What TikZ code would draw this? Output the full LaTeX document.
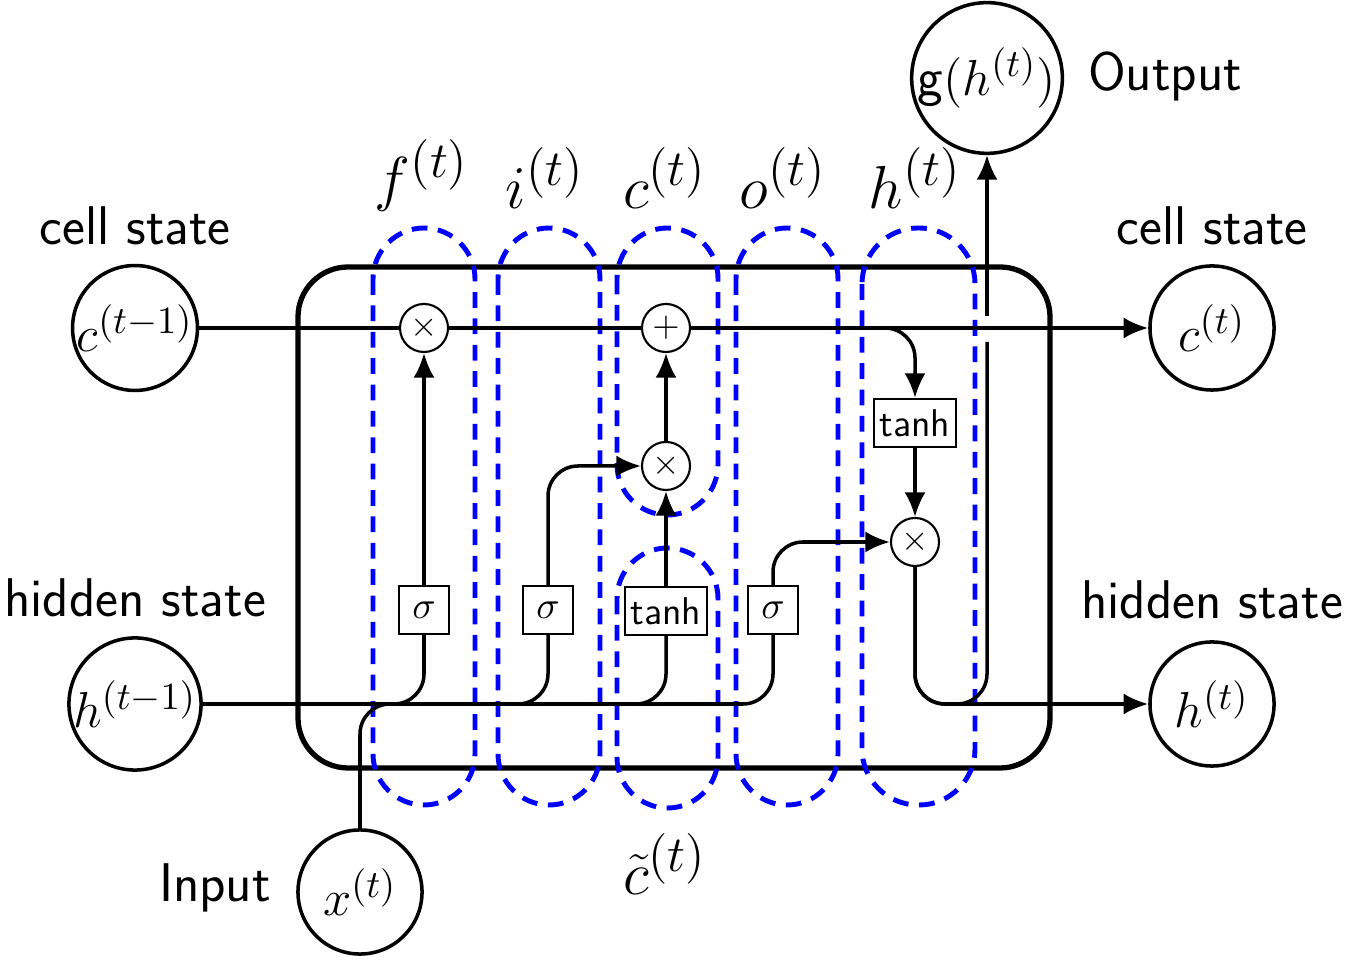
\documentclass[tikz,border=0pt]{standalone}
\usepackage{amsmath}
\usetikzlibrary{arrows.meta}
\begin{document}
\begin{tikzpicture}[x=0.01cm,y=-0.01cm,
  font=\sffamily\fontsize{15.5}{18}\selectfont,
  st/.style={circle,draw,line width=1pt,minimum size=1.24cm,inner sep=0pt},
  op/.style={circle,draw,line width=0.6pt,minimum size=0.48cm,inner sep=0pt,font=\fontsize{10}{12}\selectfont},
  gate/.style={draw,line width=0.6pt,minimum height=0.48cm,minimum width=0.5cm,inner sep=1.5pt,font=\sffamily\fontsize{11}{13}\selectfont},
  ln/.style={line width=1pt},
  ar/.style={ln,-{Latex[length=7pt,width=6pt]}},
  capsule/.style={draw=blue,dash pattern=on 4.5pt off 3pt,line width=1.4pt},
  lab/.style={font=\fontsize{19}{21}\selectfont}]
\useasboundingbox (0,0) rectangle (1352,962);
% box
\draw[line width=1.5pt,rounded corners=0.5cm] (298,267) rectangle (1050,768);
% nodes
\node[st] (cp) at (135,328) {$c^{(t-1)}$};
\node[st] (hp) at (135,704) {$h^{(t-1)}$};
\node[st] (cn) at (1212,328) {$c^{(t)}$};
\node[st] (hn) at (1212,704) {$h^{(t)}$};
\node[st] (x) at (360,892) {$x^{(t)}$};
\node[st,minimum size=1.44cm] (g) at (987,78) {g$(h^{(t)})$};
\node (l1) at (135,226) {cell state};
\node (l2) at (1212,226) {cell state};
\node (l3) at (135,598) {hidden state};
\node (l4) at (1212,600) {hidden state};
\node (l5) at (215,888) {Input};
\node (l6) at (1165,76) {Output};
\node[lab] (tf) at (422,175) {$f^{(t)}$};
\node[lab] (ti) at (545,178) {$i^{(t)}$};
\node[lab] (tc) at (665,178) {$c^{(t)}$};
\node[lab] (to) at (783,178) {$o^{(t)}$};
\node[lab] (th) at (915,178) {$h^{(t)}$};
\node[lab] (tct) at (665,864) {$\tilde c^{(t)}$};
\node[op] (mf) at (424,328) {$\times$};
\node[op] (pl) at (666,328) {$+$};
\node[op] (mi) at (666,466) {$\times$};
\node[op] (mo) at (915,542) {$\times$};
\node[gate] (sf) at (424,610) {$\sigma$};
\node[gate] (si) at (548,610) {$\sigma$};
\node[gate] (tg) at (666,611) {tanh};
\node[gate] (so) at (773,610) {$\sigma$};
\node[gate] (tc2) at (915,423) {tanh};
\coordinate (cb1) at (987,316);
\coordinate (cb2) at (987,342);
% dashed capsules
\draw[capsule,rounded corners=0.51cm] (373,228) rectangle (475,805);
\draw[capsule,rounded corners=0.51cm] (498,228) rectangle (600,805);
\draw[capsule,rounded corners=0.505cm] (617,228) rectangle (718,515);
\draw[capsule,rounded corners=0.505cm] (617,548) rectangle (718,808);
\draw[capsule,rounded corners=0.51cm] (736,228) rectangle (838,805);
\draw[capsule,rounded corners=0.56cm] (862,228) rectangle (975,805);
% cell line
\draw[ln] (cp) -- (mf) -- (pl);
\draw[ar] (pl) -- (cn);
\draw[ar,rounded corners=0.3cm] (pl.east) -- (915,328) -- (tc2.north);
\draw[ar] (tc2) -- (mo);
% hidden line
\draw[ln,rounded corners=0.3cm] (hp) -- (424,704) -- (sf.south);
\draw[ln,rounded corners=0.3cm] (hp) -- (548,704) -- (si.south);
\draw[ln,rounded corners=0.3cm] (hp) -- (666,704) -- (tg.south);
\draw[ln,rounded corners=0.3cm] (hp) -- (773,704) -- (so.south);
\draw[ln,rounded corners=0.3cm] (x.north) -- (360,704) -- (424,704);
\draw[ar] (sf) -- (mf);
\draw[ar,rounded corners=0.3cm] (si.north) -- (548,466) -- (mi.west);
\draw[ar] (tg) -- (mi);
\draw[ar] (mi) -- (pl);
\draw[ar,rounded corners=0.3cm] (so.north) -- (773,542) -- (mo.west);
\draw[ar,rounded corners=0.3cm] (mo.south) -- (915,704) -- (hn.west);
\draw[ln,rounded corners=0.3cm] (mo.south) -- (915,704) -- (987,704) -- (cb2);
\draw[ar] (cb1) -- (g.south);
\end{tikzpicture}
\end{document}
